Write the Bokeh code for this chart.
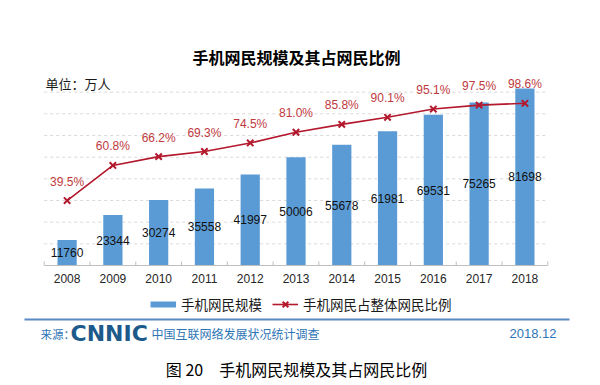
from bokeh.plotting import figure
from bokeh.models import (Range1d, FactorRange, ColumnDataSource, Legend, LegendItem,
                          Label, BoxAnnotation)
from bokeh.core.properties import value
from bokeh.embed import file_html
from bokeh.resources import INLINE

# ---- data ----
years = ["2008", "2009", "2010", "2011", "2012", "2013", "2014", "2015", "2016", "2017", "2018"]
users = [11760, 23344, 30274, 35558, 41997, 50006, 55678, 61981, 69531, 75265, 81698]
share = [39.5, 60.8, 66.2, 69.3, 74.5, 81.0, 85.8, 90.1, 95.1, 97.5, 98.6]
grid_values = [10000, 20000, 30000, 40000, 50000, 60000, 70000, 80000]
bar_name = "手机网民规模"
line_name = "手机网民占整体网民比例"
title_text = "手机网民规模及其占网民比例"
unit_text = "单位：万人"
source_label = "来源："
logo_text = "CNNIC"
survey_text = "中国互联网络发展状况统计调查"
date_text = "2018.12"
caption_text = "图 20　手机网民规模及其占网民比例"

# ---- styling / layout constants ----
CJK = "Noto Sans CJK SC"
LAT = "Liberation Sans"
BLUE = "#5b9bd5"
RED_LINE = "#b4182d"
RED_TXT = "#c0393e"
SRC_BLUE = "#2e75b6"
AXIS_GRAY = "#bfbfbf"

W, H = 591, 385          # canvas = frame
BASE = 265               # pixel row of the zero line
PX_PER_CAT = 45.78
PAD = 0.955              # category padding (synthetic units)
PX_PER_10K = 21.67
PX_PER_PCT = 1.645


def x_of(px):
    return px / PX_PER_CAT - PAD


def y_of(py):
    return (BASE - py) * 10000 / PX_PER_10K


src = ColumnDataSource(dict(
    year=years,
    users=users,
    mid=[u / 2 for u in users],
    user_label=[str(u) for u in users],
    share=share,
    share_label=[f"{v:.1f}%" for v in share],
))

p = figure(x_range=FactorRange(*years, range_padding=PAD, range_padding_units="absolute"),
           y_range=Range1d(y_of(H), y_of(0)),
           width=W, height=H, min_border=0,
           y_axis_location=None, output_backend="svg", toolbar_location=None, tools="")
p.extra_y_ranges = {"pct": Range1d(-(H - BASE) / PX_PER_PCT, BASE / PX_PER_PCT)}
p.outline_line_color = None
p.xgrid.visible = False
p.ygrid.visible = False

# gridlines across the category span
p.segment(x0=0, x1=len(years), y0=grid_values, y1=grid_values,
          line_color="#d9d9d9", line_width=1, line_dash="3 3")
# small tick marks at category boundaries (pointing up)
bounds_x = list(range(len(years) + 1))
p.segment(x0=bounds_x, x1=bounds_x, y0=0, y1=y_of(BASE - 4),
          line_color=AXIS_GRAY, line_width=1)

ax = p.xaxis[0]
ax.fixed_location = 0
ax.bounds = (0, len(years))
ax.axis_line_color = AXIS_GRAY
ax.major_tick_line_color = None
ax.major_tick_out = 0
ax.major_tick_in = 0
ax.minor_tick_line_color = None
ax.major_label_text_font = LAT
ax.major_label_text_font_size = "12px"
ax.major_label_text_color = "#262626"
ax.major_label_standoff = 8

p.vbar(x="year", top="users", width=0.42, source=src, fill_color=BLUE, line_color=None)
p.text(x="year", y="mid", text="user_label", source=src, text_align="center",
       text_baseline="middle", text_font=value(LAT), text_font_size="12px", text_color="#111111")

ln = p.line(x="year", y="share", source=src, y_range_name="pct", line_color=RED_LINE, line_width=1.6)
sc = p.scatter(x="year", y="share", source=src, y_range_name="pct", marker="x", size=9,
               line_color=RED_LINE, line_width=2)
p.text(x="year", y="share", text="share_label", source=src, y_range_name="pct", y_offset=-19,
       text_align="center", text_baseline="middle", text_font=value(LAT),
       text_font_size="12px", text_color=RED_TXT)

# legend swatch for the bars: a thick short line (hidden in the plot itself)
bar_proxy = p.line(x="year", y="users", source=src, line_color=BLUE, line_width=6, visible=False)
legend = Legend(items=[LegendItem(label=bar_name, renderers=[bar_proxy]),
                       LegendItem(label=line_name, renderers=[ln, sc])],
                location=(150, H - 314), orientation="horizontal", border_line_color=None,
                background_fill_alpha=0, inactive_fill_alpha=0,
                label_text_font=CJK, label_text_font_size="13.5px",
                label_text_color="#1a1a1a", glyph_width=26, glyph_height=20,
                label_standoff=5, spacing=10, padding=0, margin=0, click_policy="none")
p.add_layout(legend, "center")

# header texts
p.add_layout(Label(x=x_of(296), y=y_of(56), text=title_text, text_align="center",
                   text_baseline="middle", text_font=CJK, text_font_style="bold",
                   text_font_size="16px", text_color="#000000"))
p.add_layout(Label(x=x_of(45), y=y_of(83), text=unit_text, text_align="left",
                   text_baseline="middle", text_font=CJK, text_font_size="13px",
                   text_color="#1a1a1a"))

# footer
p.add_layout(BoxAnnotation(left=x_of(24), right=x_of(569), top=y_of(318), bottom=y_of(320),
                           fill_color="#5a8ac6", fill_alpha=1, line_color=None))
p.add_layout(Label(x=x_of(40), y=y_of(333), text=source_label, text_baseline="middle",
                   text_font=CJK, text_font_size="11.5px", text_color=SRC_BLUE))
p.add_layout(Label(x=x_of(70), y=y_of(333), text=logo_text, text_baseline="middle",
                   text_font="DejaVu Sans", text_font_style="bold", text_font_size="22px",
                   text_color="#1c5a8c"))
p.add_layout(Label(x=x_of(151), y=y_of(333), text=survey_text, text_baseline="middle",
                   text_font=CJK, text_font_size="12px", text_color=SRC_BLUE))
p.add_layout(Label(x=x_of(556), y=y_of(333), text=date_text, text_align="right",
                   text_baseline="middle", text_font=LAT, text_font_size="13px",
                   text_color=SRC_BLUE))
p.add_layout(Label(x=x_of(296), y=y_of(368), text=caption_text, text_align="center",
                   text_baseline="middle", text_font=CJK, text_font_size="16px",
                   text_color="#000000"))

open("out.html", "w").write(file_html(p, INLINE))
